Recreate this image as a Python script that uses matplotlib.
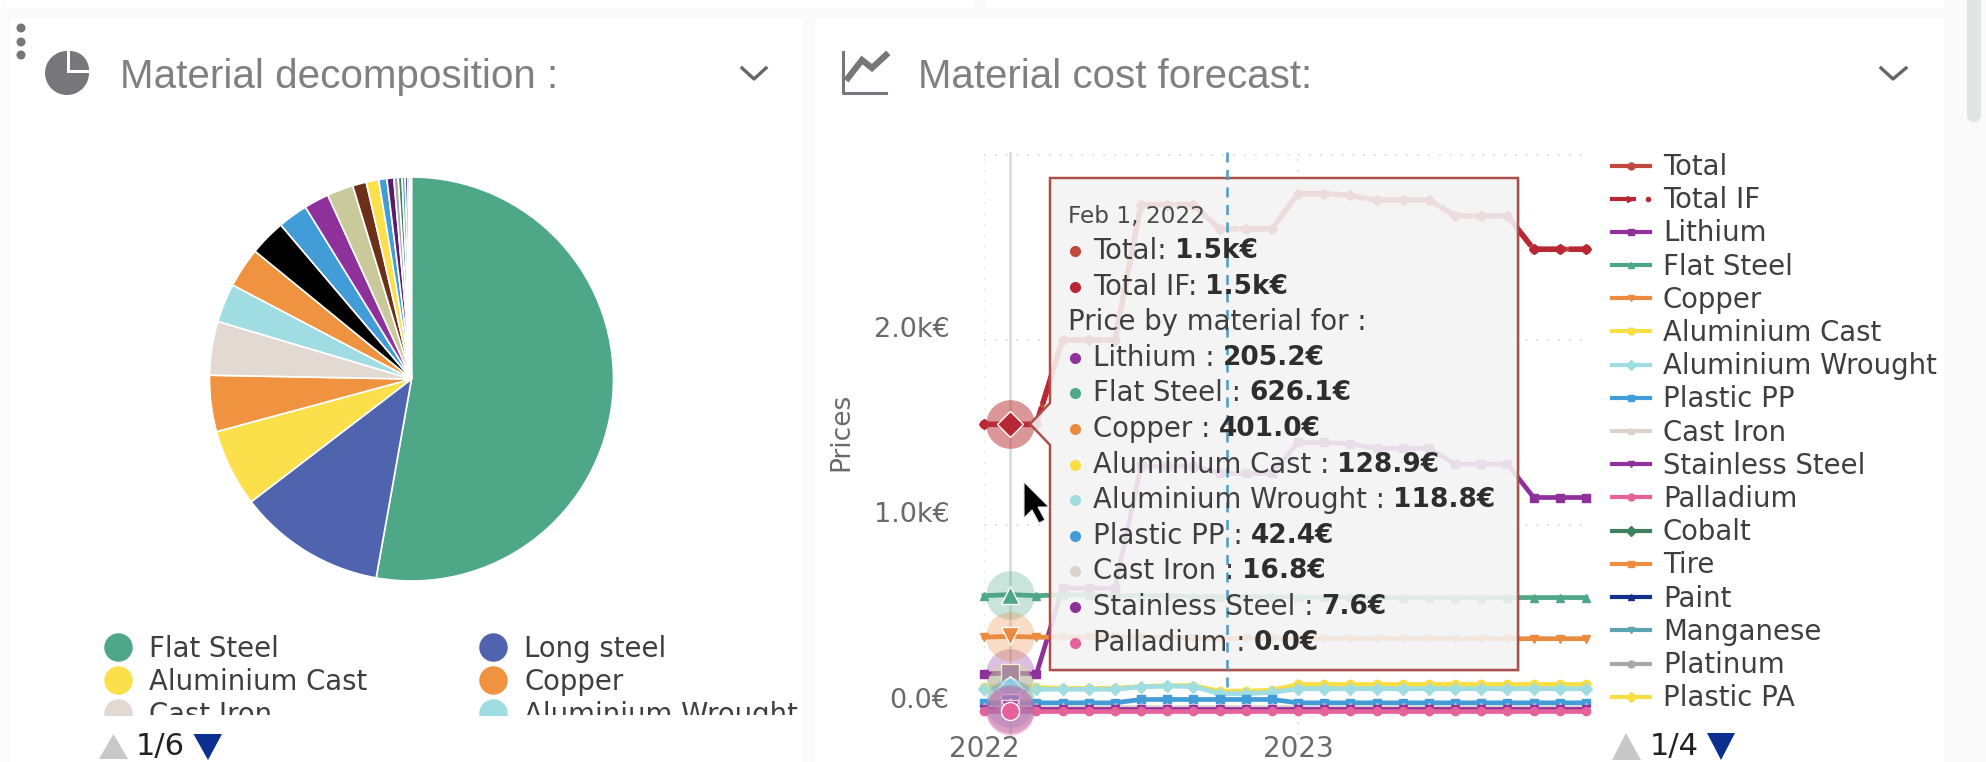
import numpy as np
import matplotlib
matplotlib.use("Agg")
import matplotlib.pyplot as plt
import matplotlib.transforms as mtrans
from matplotlib.patches import Circle, FancyBboxPatch, Polygon, Rectangle, Wedge

W, H = 1986, 762

# pie : clockwise from the top
pie_values = [52.8, 11.8, 6.2, 4.5, 4.3, 3.1, 3.2, 2.9, 2.4, 2.0, 2.1, 1.1, 1.0, 0.65, 0.55,
              0.35, 0.3, 0.25, 0.2, 0.15, 0.15]
pie_colors = ["#4ea888", "#4f63ae", "#fbdf4b", "#f09340", "#e2d9d2", "#a0dde3", "#f09340", "#000000",
              "#429cd8", "#8f319b", "#c9c99b", "#6b2f1a", "#fbdf4b", "#429cd8", "#5a1a6e",
              "#a8a8a8", "#3f8060", "#5aa5b0", "#12308c", "#8f319b", "#d8cfc0"]
pie_legend_names = ["Flat Steel", "Long steel", "Aluminium Cast", "Copper", "Cast Iron", "Aluminium Wrought"]
pie_legend_colors = ["#4ea888", "#4f63ae", "#fbdf4b", "#f09340", "#e2d9d2", "#a0dde3"]

# forecast : one point per month
months = np.arange(24)
year_ticks = [0, 12]
year_labels = ["2022", "2023"]
price_ticks = [0, 1000, 2000, 3000]
price_labels = ["0.0€", "1.0k€", "2.0k€", ""]

total = [1545, 1545, 1545, 2000, 2000, 2000, 2730, 2730, 2730, 2600, 2600, 2600,
         2790, 2790, 2780, 2755, 2755, 2755, 2670, 2670, 2670, 2490, 2490, 2490]
total_if = [1545, 1545, 1545, 2000, 2000, 2000, 2730, 2730, 2730, 2600, 2600, 2600,
            2790, 2790, 2780, 2755, 2755, 2755, 2670, 2670, 2670, 2490, 2490, 2490]
lithium = [196, 205, 196, 660, 660, 660, 1320, 1320, 1320, 1280, 1280, 1280,
           1447, 1447, 1440, 1415, 1415, 1415, 1330, 1330, 1330, 1150, 1150, 1150]
flat_steel = [620, 626, 620, 625, 625, 620, 620, 620, 615, 615, 615, 615,
              612, 612, 612, 610, 610, 610, 610, 610, 610, 610, 610, 610]
copper = [396, 401, 396, 396, 396, 396, 396, 396, 390, 390, 390, 390,
          388, 388, 388, 388, 388, 388, 388, 388, 388, 388, 388, 388]
alu_cast = [128, 129, 125, 120, 120, 120, 130, 135, 135, 105, 105, 110,
            141, 141, 141, 141, 141, 141, 141, 141, 141, 141, 141, 141]
alu_wrought = [118, 119, 115, 115, 115, 115, 128, 132, 130, 92, 92, 98,
               118, 118, 118, 118, 118, 118, 118, 118, 118, 118, 118, 118]
plastic_pp = [42, 42, 42, 42, 42, 42, 60, 60, 60, 60, 60, 60,
              42, 42, 42, 42, 42, 42, 42, 42, 42, 42, 42, 42]
cast_iron = [17, 17, 17, 17, 17, 17, 17, 17, 17, 17, 17, 17,
             17, 17, 17, 17, 17, 17, 17, 17, 17, 17, 17, 17]
stainless = [8, 8, 8, 8, 8, 8, 8, 8, 8, 8, 8, 8,
             8, 8, 8, 8, 8, 8, 8, 8, 8, 8, 8, 8]
palladium = [0, 0, 0, 0, 0, 0, 0, 0, 0, 0, 0, 0,
             0, 0, 0, 0, 0, 0, 0, 0, 0, 0, 0, 0]

series_names = ["Total", "Total IF", "Lithium", "Flat Steel", "Copper", "Aluminium Cast", "Aluminium Wrought",
                "Plastic PP", "Cast Iron", "Stainless Steel", "Palladium", "Cobalt", "Tire", "Paint",
                "Manganese", "Platinum", "Plastic PA"]
series_colors = ["#c0483d", "#b92735", "#8f319b", "#4ea888", "#e98c3f", "#f7de45", "#a0dde3",
                 "#429cd8", "#dcd3cc", "#8f319b", "#e5629b", "#3f8060", "#ee8d40", "#12308c",
                 "#5aa5b0", "#a8a8a8", "#f7de45"]
series_markers = ["o", "D", "s", "^", "v", "o", "D", "s", "^", "v", "o", "D", "s", "^", "v", "o", "D"]
drawn_series = [total, total_if, lithium, flat_steel, copper, alu_cast, alu_wrought,
                plastic_pp, cast_iron, stainless, palladium]

hover_month = 1

tooltip_date = "Feb 1, 2022"
tooltip_names = ["Total:", "Total IF:", None, "Lithium :", "Flat Steel :", "Copper :", "Aluminium Cast :",
                 "Aluminium Wrought :", "Plastic PP :", "Cast Iron :", "Stainless Steel :", "Palladium :"]
tooltip_values = ["1.5k€", "1.5k€", None, "205.2€", "626.1€", "401.0€", "128.9€", "118.8€", "42.4€",
                  "16.8€", "7.6€", "0.0€"]
tooltip_colors = ["#c0483d", "#b92735", None, "#8f319b", "#4ea888", "#e98c3f", "#f7de45", "#a0dde3",
                  "#429cd8", "#dcd3cc", "#8f319b", "#e5629b"]

TXT = "#3f3f3f"
GREY = "#77777b"
FS = 19.8


def px_axes(left, top, right, bottom, zorder):
    ax = fig.add_axes([left / W, 1 - bottom / H, (right - left) / W, (bottom - top) / H], zorder=zorder)
    ax.set_xlim(left, right)
    ax.set_ylim(bottom, top)
    ax.axis("off")
    return ax


fig = plt.figure(figsize=(W / 100, H / 100), dpi=100, facecolor="#fafafa")

# page : cards, scrollbar, headers
page = px_axes(0, 0, W, H, 0)
page.add_patch(Rectangle((0, 0), 975, 8, color="white", lw=0))
page.add_patch(Rectangle((985, 0), 959, 8, color="white", lw=0))
page.add_patch(Rectangle((10, 18), 793, H, color="white", lw=0))
page.add_patch(Rectangle((815, 18), 1129, H, color="white", lw=0))
page.add_patch(Rectangle((0, 0), 7, H, color="#fdfdfd", lw=0))
page.add_patch(FancyBboxPatch((1969, -10), 10, 130, boxstyle="round,pad=0,rounding_size=5",
                              fc="#e3e5e5", ec="#e3e5e5", lw=3))

for y in [28, 42, 55]:
    page.add_patch(Circle((21, y), 4.5, color=GREY, lw=0))
page.add_patch(Wedge((67, 73), 22, 0, 360, color=GREY, lw=0))
page.add_patch(Rectangle((67, 50), 24, 23, color="white", lw=0))
page.add_patch(Wedge((70, 70), 19, 270, 360, color=GREY, lw=0))
page.plot([843, 843, 886], [52, 93, 93], color=GREY, lw=2.2)
page.plot([848, 862, 872, 886], [78, 60, 68, 55], color=GREY, lw=4.5, solid_joinstyle="miter")
page.text(120, 77, "Material decomposition :", family="Liberation Sans", fontsize=29.1, color="#808080",
          va="center")
page.text(918, 77, "Material cost forecast:", family="Liberation Sans", fontsize=29, color="#808080",
          va="center")
page.plot([742, 754, 766], [68, 79, 68], color="#666666", lw=2.4)
page.plot([1881, 1893, 1906], [68, 79, 68], color="#666666", lw=2.4)

# pie
pie_ax = fig.add_axes([(411.5 - 202) / W, 1 - (379 + 202) / H, 404 / W, 404 / H], zorder=1)
pie_ax.pie(pie_values, colors=pie_colors, startangle=90, counterclock=False, radius=1, normalize=True,
           wedgeprops={"edgecolor": "white", "linewidth": 1.2})
pie_ax.set_xlim(-1, 1)
pie_ax.set_ylim(-1, 1)

# pie legend, cut by the bottom of its scrolling box
pie_leg = px_axes(90, 628, 810, 715, 1)
rows = [647, 680, 713]
for i, (name, col) in enumerate(zip(pie_legend_names, pie_legend_colors)):
    x0 = 117.5 if i % 2 == 0 else 493
    y = rows[i // 2]
    pie_leg.plot([x0], [y], "o", ms=20.5, color=col, mew=0, clip_on=True)
    pie_leg.text(x0 + 31.5, y + 2, name, fontsize=FS, color=TXT, va="center", clip_on=True)
page.add_patch(Polygon([(99, 759), (113.5, 734), (128, 759)], color="#c8c8c8", lw=0))
page.add_patch(Polygon([(193.5, 734), (222, 734), (208, 760)], color="#0b2f8f", lw=0))
page.text(136, 746, "1/6", fontsize=22, color="#222222", va="center")

# forecast chart
ax = px_axes(0, 0, 1, 1, 2)
ax.set_position([984 / W, 1 - 735 / H, (1586 - 984) / W, (735 - 152) / H])
ax.axis("on")
ax.patch.set_alpha(0)
x_per_px = 23 / (1585.5 - 983.5)
ax.set_xlim(0, (1586 - 984) * x_per_px)
ax.set_ylim((710.6 - 735) * 1000 / 185.3, (710.6 - 152) * 1000 / 185.3)
for side in ax.spines.values():
    side.set_visible(False)
ax.set_xticks(year_ticks, year_labels, fontsize=20, color="#6a6a6a")
ax.set_yticks(price_ticks, price_labels, fontsize=19.5, color="#6a6a6a")
ax.tick_params(axis="x", length=0, pad=0)
ax.tick_params(axis="y", length=0, pad=25)
up = mtrans.ScaledTranslation(0, 13 / 100, fig.dpi_scale_trans)
for lab in ax.get_yticklabels():
    lab.set_transform(lab.get_transform() + up)
ax.grid(True, color="#dddddd", lw=1.3, ls=(0, (1, 5)))
ax.set_axisbelow(True)
page.text(841, 432, "Prices", fontsize=19, color="#6a6a6a", rotation=90, va="center", ha="center")

ax.axvline(hover_month, color="#d9d9d9", lw=1.8, zorder=1)
for vals, col, mk, name in zip(drawn_series, series_colors, series_markers, series_names):
    if name == "Total IF":
        ax.plot(months, vals, color=col, lw=4, ls=(0, (6, 0.6)), marker=mk, ms=5, zorder=3, clip_on=False)
    else:
        ax.plot(months, vals, color=col, lw=3.4, marker=mk, ms=6, zorder=3, clip_on=False)
# halos one after the other, a later halo veils the marks below it
order = 4
for vals, col, mk, name in zip(drawn_series, series_colors, series_markers, series_names):
    ax.plot([hover_month], [vals[hover_month]], mk, ms=13, color=col, mec="white", mew=1, zorder=order, clip_on=False)
    ax.plot([hover_month], [vals[hover_month]], "o", ms=35, color=col, alpha=0.3, mew=0, zorder=order - 0.5,
            clip_on=False)
    order += 1

# tooltip, on top of the lines
over = px_axes(0, 0, W, H, 3)
over.patch.set_alpha(0)
box = [(1050, 178), (1518, 178), (1518, 670), (1050, 670), (1050, 445), (1030, 424), (1050, 403)]
over.add_patch(Polygon([(x + 2, y + 2) for x, y in box], fc="#000000", alpha=0.10, lw=0))
over.add_patch(Polygon(box, fc="#f7f7f7", lw=0, alpha=0.88))
over.add_patch(Polygon(box, fill=False, ec="#ac504a", lw=1.8))

ys = 251.0
over.text(1068, 216, tooltip_date, fontsize=16.7, color="#4a4a4a", va="center")
rend = fig.canvas.get_renderer()
for name, value, col in zip(tooltip_names, tooltip_values, tooltip_colors):
    if name is None:
        over.text(1068, ys, "Price by material for :", fontsize=FS, color=TXT, va="center")
    else:
        over.plot([1075], [ys], "o", ms=8, color=col, mew=0)
        t = over.text(1093, ys, name, fontsize=FS, color=TXT, va="center")
        right = t.get_window_extent(rend).x1
        over.text(right + 8, ys, value, fontsize=FS - 0.8, color="#2e2e2e", weight="bold", va="center")
    ys += 35.6

over.plot([1227, 1227], [152, 692], color="#4a9cc7", lw=1.8, ls=(0, (4, 3)))
over.add_patch(Polygon([(1024, 482), (1024, 518), (1032, 510), (1039, 523), (1045, 520), (1038, 507), (1049, 507)],
                       fc="black", ec="#e8e8e8", lw=0.8))

# right legend
leg_y = 165.5
for name, col, mk in zip(series_names, series_colors, series_markers):
    if name == "Total IF":
        over.plot([1612, 1634], [leg_y, leg_y], color=col, lw=3)
        over.plot([1648], [leg_y], "o", ms=3, color=col)
        over.plot([1630], [leg_y], ">", ms=5, color=col)
    else:
        over.plot([1612, 1650], [leg_y, leg_y], color=col, lw=3)
        over.plot([1631], [leg_y], mk, ms=5, color=col)
    over.text(1663, leg_y + 1.5, name, fontsize=FS, color=TXT, va="center")
    leg_y += 33.2
over.add_patch(Polygon([(1612, 760), (1626, 733), (1641, 760)], color="#c8c8c8", lw=0))
over.add_patch(Polygon([(1707, 733), (1735, 733), (1721, 760)], color="#0b2f8f", lw=0))
over.text(1650, 746, "1/4", fontsize=22, color="#222222", va="center")

fig.savefig("out.png", dpi=100, facecolor=fig.get_facecolor())
